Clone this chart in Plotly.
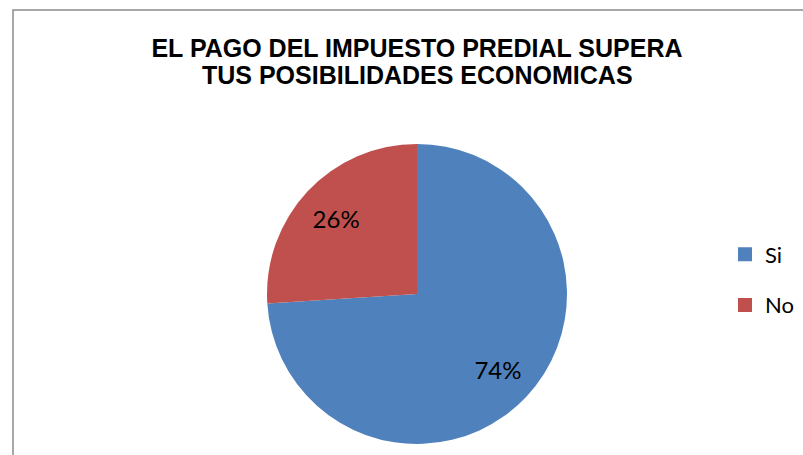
import plotly.graph_objects as go

labels = ["Si", "No"]
values = [74, 26]
colors = ["#4F81BD", "#C0504D"]
title_lines = ["EL PAGO DEL IMPUESTO PREDIAL SUPERA", "TUS POSIBILIDADES ECONOMICAS"]

W, H = 803, 455
cx, cy, r = 417, 294, 150
dom = dict(x=[(cx - r) / W, (cx + r) / W], y=[1 - (cy + r) / H, 1 - (cy - r) / H])
label_font = dict(family="Lato, sans-serif", size=24, color="black")
title_font = dict(family="Arial", size=25, color="black", weight="bold")

fig = go.Figure()
# full pie (slices)
fig.add_trace(go.Pie(
    labels=labels, values=values, sort=False, direction="clockwise", rotation=0,
    marker=dict(colors=colors, line=dict(width=0)),
    textinfo="none", domain=dom, showlegend=False, hoverinfo="label+percent",
))
# same data as ring, only to place the percentage labels mid-radius
fig.add_trace(go.Pie(
    labels=labels, values=values, sort=False, direction="clockwise", rotation=0,
    hole=0.48,
    marker=dict(colors=["rgba(0,0,0,0)"] * len(labels), line=dict(width=0)),
    texttemplate="%{percent:.0%}", textposition="inside",
    insidetextorientation="horizontal", textfont=label_font,
    domain=dom, showlegend=False, hoverinfo="skip",
))
for lab, col in zip(labels, colors):
    fig.add_trace(go.Scatter(
        x=[None], y=[None], mode="markers", name=lab, legendgroup=lab,
        marker=dict(symbol="square", size=14, color=col),
    ))

fig.update_layout(
    width=W, height=H,
    margin=dict(l=0, r=0, t=0, b=0),
    paper_bgcolor="white", plot_bgcolor="white",
    xaxis=dict(visible=False), yaxis=dict(visible=False),
    title=dict(
        text=title_lines[0],
        x=417 / W, xanchor="center", y=1 - 48 / H, yanchor="middle",
        font=title_font,
    ),
    annotations=[dict(
        text=title_lines[1], xref="paper", yref="paper",
        x=417 / W, xanchor="center", y=1 - 75 / H, yanchor="middle",
        showarrow=False, font=title_font,
    )],
    legend=dict(
        x=725 / W, xanchor="left", y=1 - 280 / H, yanchor="middle",
        font=dict(family="Lato, sans-serif", size=22, color="black"),
        tracegroupgap=19, bgcolor="rgba(0,0,0,0)",
    ),
    shapes=[dict(type="rect", xref="paper", yref="paper",
                 x0=13 / W, x1=1.02, y0=-0.02, y1=1 - 10 / H,
                 line=dict(color="#8c8c8c", width=1.5), layer="below")],
)
fig.write_html("out.html", config={"displayModeBar": False},
               post_script="document.body.style.margin='0';document.body.style.overflow='hidden';")
